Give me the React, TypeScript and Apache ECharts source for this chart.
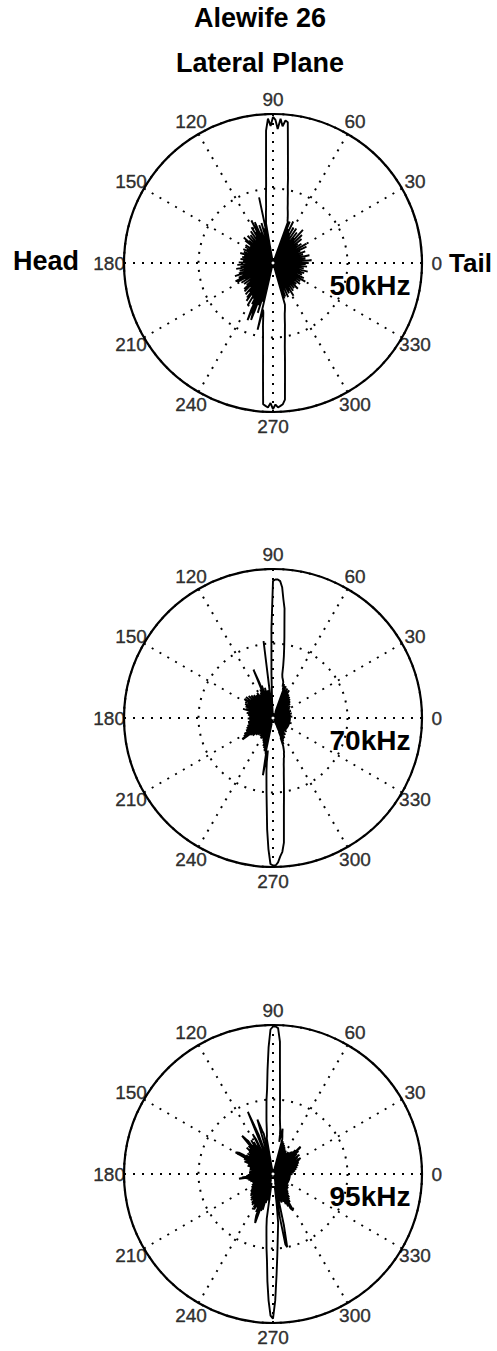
import React, { useEffect, useRef } from "react";
import * as echarts from "echarts";

// ---- data: normalized level per degree (index = angle in degrees, 0..359) ----
const level50 = [
  0.24, 0.01, 0.19, 0.02, 0.26, 0.01, 0.15, 0.02, 0.22, 0.01,
  0.18, 0.02, 0.25, 0.01, 0.14, 0.02, 0.21, 0.01, 0.17, 0.02,
  0.23, 0.01, 0.16, 0.02, 0.2, 0.01, 0.25, 0.02, 0.15, 0.01,
  0.26, 0.02, 0.18, 0.01, 0.23, 0.02, 0.14, 0.01, 0.21, 0.02,
  0.25, 0.01, 0.17, 0.02, 0.27, 0.01, 0.2, 0.02, 0.3, 0.01,
  0.22, 0.02, 0.26, 0.01, 0.19, 0.02, 0.28, 0.01, 0.21, 0.02,
  0.27, 0.01, 0.23, 0.02, 0.31, 0.01, 0.25, 0.02, 0.3, 0.03,
  0.29, 0.3, 0.32, 0.34, 0.36, 0.38, 0.41, 0.44, 0.48, 0.52,
  0.58, 0.64, 0.72, 0.82, 0.95, 0.96, 0.92, 0.97, 0.9, 0.96,
  0.98, 0.92, 0.97, 0.89, 0.67, 0.53, 0.45, 0.38, 0.34, 0.3,
  0.27, 0.02, 0.45, 0.02, 0.24, 0.01, 0.28, 0.02, 0.19, 0.01,
  0.27, 0.02, 0.22, 0.01, 0.3, 0.02, 0.2, 0.32, 0.01, 0.24,
  0.02, 0.28, 0.01, 0.21, 0.02, 0.26, 0.01, 0.18, 0.02, 0.24,
  0.01, 0.2, 0.02, 0.25, 0.01, 0.17, 0.02, 0.22, 0.01, 0.26,
  0.02, 0.24, 0.01, 0.19, 0.02, 0.15, 0.01, 0.22, 0.02, 0.18,
  0.01, 0.2, 0.02, 0.16, 0.01, 0.22, 0.02, 0.17, 0.01, 0.21,
  0.02, 0.18, 0.01, 0.23, 0.02, 0.2, 0.01, 0.16, 0.02, 0.21,
  0.01, 0.17, 0.02, 0.22, 0.01, 0.15, 0.02, 0.2, 0.01, 0.23,
  0.02, 0.19, 0.01, 0.24, 0.02, 0.17, 0.01, 0.22, 0.02, 0.25,
  0.01, 0.2, 0.02, 0.23, 0.01, 0.18, 0.02, 0.24, 0.01, 0.27,
  0.02, 0.22, 0.01, 0.25, 0.02, 0.19, 0.28, 0.01, 0.27, 0.02,
  0.21, 0.01, 0.25, 0.02, 0.18, 0.01, 0.24, 0.02, 0.2, 0.01,
  0.23, 0.02, 0.26, 0.01, 0.2, 0.27, 0.02, 0.22, 0.01, 0.28,
  0.02, 0.25, 0.01, 0.29, 0.02, 0.31, 0.01, 0.26, 0.02, 0.33,
  0.01, 0.27, 0.02, 0.31, 0.01, 0.34, 0.42, 0.02, 0.36, 0.41,
  0.02, 0.3, 0.01, 0.35, 0.02, 0.27, 0.03, 0.46, 0.32, 0.34,
  0.38, 0.43, 0.48, 0.55, 0.64, 0.77, 0.95, 0.96, 0.97, 0.94,
  0.98, 0.95, 0.97, 0.96, 0.95, 0.92, 0.77, 0.66, 0.57, 0.51,
  0.46, 0.42, 0.38, 0.35, 0.33, 0.31, 0.29, 0.02, 0.25, 0.01,
  0.24, 0.02, 0.2, 0.01, 0.25, 0.02, 0.18, 0.01, 0.23, 0.02,
  0.21, 0.01, 0.26, 0.02, 0.19, 0.01, 0.23, 0.02, 0.17, 0.01,
  0.22, 0.02, 0.18, 0.01, 0.24, 0.02, 0.16, 0.01, 0.21, 0.02,
  0.19, 0.01, 0.23, 0.02, 0.17, 0.01, 0.22, 0.02, 0.15, 0.01,
  0.25, 0.02, 0.2, 0.01, 0.23, 0.02, 0.17, 0.01, 0.21, 0.02,
  0.16, 0.01, 0.22, 0.02, 0.19, 0.01, 0.24, 0.02, 0.17, 0.01,
  0.21, 0.02, 0.18, 0.01, 0.23, 0.02, 0.16, 0.01, 0.22, 0.02,
];

const level70 = [
  0.12, 0.01, 0.09, 0.02, 0.13, 0.01, 0.1, 0.02, 0.12, 0.01,
  0.08, 0.02, 0.11, 0.01, 0.13, 0.02, 0.1, 0.01, 0.12, 0.02,
  0.09, 0.01, 0.13, 0.02, 0.11, 0.01, 0.12, 0.02, 0.1, 0.01,
  0.13, 0.02, 0.11, 0.01, 0.14, 0.02, 0.12, 0.01, 0.13, 0.02,
  0.15, 0.01, 0.12, 0.02, 0.16, 0.01, 0.14, 0.02, 0.17, 0.01,
  0.15, 0.02, 0.18, 0.01, 0.16, 0.02, 0.19, 0.01, 0.18, 0.02,
  0.21, 0.01, 0.2, 0.02, 0.22, 0.03, 0.21, 0.04, 0.23, 0.05,
  0.23, 0.2, 0.24, 0.22, 0.25, 0.26, 0.27, 0.28, 0.3, 0.36,
  0.42, 0.48, 0.55, 0.63, 0.74, 0.8, 0.88, 0.92, 0.93, 0.93,
  0.92, 0.6, 0.3, 0.12, 0.02, 0.1, 0.01, 0.52, 0.02, 0.16,
  0.01, 0.19, 0.02, 0.15, 0.01, 0.21, 0.02, 0.17, 0.01, 0.23,
  0.02, 0.25, 0.35, 0.02, 0.21, 0.01, 0.19, 0.02, 0.17, 0.01,
  0.18, 0.02, 0.2, 0.01, 0.15, 0.02, 0.19, 0.01, 0.17, 0.02,
  0.2, 0.01, 0.16, 0.02, 0.21, 0.01, 0.18, 0.02, 0.22, 0.01,
  0.19, 0.02, 0.23, 0.01, 0.2, 0.02, 0.23, 0.22, 0.01, 0.2,
  0.02, 0.19, 0.01, 0.21, 0.02, 0.17, 0.01, 0.2, 0.02, 0.16,
  0.01, 0.19, 0.02, 0.21, 0.01, 0.17, 0.02, 0.16, 0.01, 0.18,
  0.02, 0.15, 0.01, 0.17, 0.02, 0.14, 0.01, 0.16, 0.02, 0.15,
  0.01, 0.17, 0.02, 0.14, 0.01, 0.16, 0.02, 0.13, 0.01, 0.17,
  0.02, 0.15, 0.01, 0.17, 0.02, 0.14, 0.01, 0.18, 0.02, 0.16,
  0.01, 0.19, 0.02, 0.18, 0.01, 0.2, 0.02, 0.19, 0.01, 0.22,
  0.02, 0.2, 0.23, 0.01, 0.24, 0.25, 0.02, 0.19, 0.01, 0.17,
  0.02, 0.18, 0.01, 0.15, 0.02, 0.16, 0.01, 0.13, 0.02, 0.15,
  0.01, 0.14, 0.02, 0.12, 0.01, 0.15, 0.02, 0.13, 0.01, 0.16,
  0.02, 0.14, 0.01, 0.15, 0.02, 0.16, 0.01, 0.17, 0.02, 0.18,
  0.01, 0.2, 0.02, 0.21, 0.03, 0.22, 0.23, 0.04, 0.24, 0.25,
  0.39, 0.22, 0.3, 0.36, 0.42, 0.5, 0.6, 0.75, 0.88, 0.98,
  0.99, 0.99, 0.97, 0.93, 0.9, 0.84, 0.7, 0.6, 0.53, 0.47,
  0.42, 0.38, 0.35, 0.32, 0.3, 0.28, 0.27, 0.25, 0.24, 0.22,
  0.2, 0.14, 0.19, 0.1, 0.17, 0.06, 0.16, 0.03, 0.15, 0.02,
  0.14, 0.01, 0.13, 0.02, 0.12, 0.01, 0.14, 0.02, 0.11, 0.01,
  0.12, 0.02, 0.1, 0.01, 0.13, 0.02, 0.11, 0.01, 0.12, 0.02,
  0.1, 0.01, 0.12, 0.02, 0.09, 0.01, 0.11, 0.02, 0.12, 0.01,
  0.1, 0.02, 0.12, 0.01, 0.09, 0.02, 0.11, 0.01, 0.12, 0.02,
  0.1, 0.01, 0.11, 0.02, 0.13, 0.01, 0.1, 0.02, 0.12, 0.01,
  0.09, 0.02, 0.11, 0.01, 0.12, 0.02, 0.1, 0.01, 0.11, 0.02,
];

const level95 = [
  0.13, 0.01, 0.11, 0.02, 0.14, 0.01, 0.12, 0.02, 0.15, 0.01,
  0.13, 0.02, 0.16, 0.01, 0.14, 0.02, 0.17, 0.01, 0.15, 0.02,
  0.18, 0.01, 0.16, 0.02, 0.19, 0.01, 0.17, 0.02, 0.2, 0.01,
  0.21, 0.02, 0.18, 0.01, 0.2, 0.02, 0.22, 0.01, 0.19, 0.02,
  0.21, 0.01, 0.23, 0.02, 0.25, 0.26, 0.01, 0.22, 0.02, 0.2,
  0.01, 0.19, 0.02, 0.16, 0.01, 0.18, 0.02, 0.15, 0.01, 0.17,
  0.02, 0.18, 0.01, 0.16, 0.02, 0.19, 0.01, 0.2, 0.02, 0.21,
  0.01, 0.22, 0.02, 0.23, 0.03, 0.24, 0.26, 0.28, 0.31, 0.22,
  0.27, 0.31, 0.34, 0.38, 0.45, 0.54, 0.67, 0.89, 0.98, 0.99,
  0.99, 0.97, 0.85, 0.7, 0.57, 0.5, 0.42, 0.36, 0.3, 0.26,
  0.24, 0.02, 0.14, 0.28, 0.3, 0.34, 0.38, 0.02, 0.16, 0.01,
  0.28, 0.34, 0.45, 0.02, 0.18, 0.01, 0.26, 0.3, 0.02, 0.22,
  0.01, 0.25, 0.02, 0.27, 0.01, 0.24, 0.02, 0.28, 0.3, 0.33,
  0.02, 0.25, 0.01, 0.23, 0.02, 0.25, 0.01, 0.22, 0.02, 0.21,
  0.01, 0.22, 0.02, 0.2, 0.01, 0.22, 0.02, 0.24, 0.27, 0.28,
  0.29, 0.02, 0.22, 0.01, 0.2, 0.02, 0.21, 0.01, 0.18, 0.02,
  0.17, 0.01, 0.18, 0.02, 0.16, 0.01, 0.15, 0.02, 0.16, 0.01,
  0.15, 0.02, 0.14, 0.01, 0.16, 0.02, 0.15, 0.01, 0.16, 0.02,
  0.15, 0.01, 0.17, 0.02, 0.18, 0.01, 0.2, 0.21, 0.23, 0.02,
  0.18, 0.01, 0.16, 0.02, 0.17, 0.01, 0.15, 0.02, 0.16, 0.01,
  0.15, 0.02, 0.14, 0.01, 0.15, 0.02, 0.14, 0.01, 0.16, 0.02,
  0.15, 0.01, 0.17, 0.02, 0.16, 0.01, 0.18, 0.02, 0.19, 0.01,
  0.18, 0.02, 0.2, 0.01, 0.21, 0.02, 0.2, 0.01, 0.22, 0.02,
  0.23, 0.01, 0.22, 0.02, 0.24, 0.01, 0.25, 0.02, 0.24, 0.01,
  0.26, 0.02, 0.27, 0.01, 0.25, 0.02, 0.28, 0.03, 0.3, 0.33,
  0.35, 0.04, 0.26, 0.05, 0.25, 0.06, 0.2, 0.06, 0.18, 0.07,
  0.14, 0.06, 0.3, 0.36, 0.42, 0.5, 0.58, 0.72, 0.85, 0.95,
  0.97, 0.85, 0.68, 0.55, 0.45, 0.38, 0.33, 0.2, 0.08, 0.3,
  0.48, 0.5, 0.35, 0.06, 0.15, 0.05, 0.18, 0.2, 0.04, 0.17,
  0.03, 0.2, 0.02, 0.22, 0.01, 0.24, 0.02, 0.26, 0.27, 0.28,
  0.02, 0.22, 0.01, 0.2, 0.02, 0.19, 0.01, 0.17, 0.02, 0.16,
  0.01, 0.15, 0.02, 0.14, 0.01, 0.13, 0.02, 0.14, 0.01, 0.13,
  0.02, 0.12, 0.01, 0.13, 0.02, 0.12, 0.01, 0.11, 0.02, 0.12,
  0.01, 0.11, 0.02, 0.12, 0.01, 0.11, 0.02, 0.1, 0.01, 0.12,
  0.02, 0.11, 0.01, 0.12, 0.02, 0.11, 0.01, 0.12, 0.02, 0.11,
  0.01, 0.12, 0.02, 0.11, 0.01, 0.12, 0.02, 0.11, 0.01, 0.12,
];

const angleTicks = [0, 30, 60, 90, 120, 150, 180, 210, 240, 270, 300, 330];
const freqLabels = ["50kHz", "70kHz", "95kHz"];
const levels = [level50, level70, level95];
const titleLines = ["Alewife 26", "Lateral Plane"];
const sideLabels = ["Head", "Tail"];

// ---- layout ----
const W = 497;
const H = 1351;
const CX = 273;
const CENTERS_Y = [263, 718, 1174];
const RADIUS = 149;
const FONT = "'Liberation Sans', Arial, Helvetica, sans-serif";
const DOTS = [2, 7];

export default function App() {
  const ref = useRef<HTMLDivElement>(null);

  useEffect(() => {
    if (!ref.current) return;
    const chart = echarts.init(ref.current, undefined, { renderer: "svg" });

    const polar = CENTERS_Y.map((cy) => ({ center: [CX, cy], radius: RADIUS }));
    const angleAxis = CENTERS_Y.map((_, i) => ({
      polarIndex: i,
      type: "value",
      min: 0,
      max: 360,
      interval: 30,
      startAngle: 0,
      clockwise: false,
      axisLine: { show: true, lineStyle: { color: "#000", width: 2.2 } },
      axisTick: { show: false },
      axisLabel: { show: false },
      splitLine: { show: true, lineStyle: { color: "#000", width: 2, type: DOTS } },
      z: 1,
    }));
    const radiusAxis = CENTERS_Y.map((_, i) => ({
      polarIndex: i,
      type: "value",
      min: 0,
      max: 1,
      interval: 0.5,
      axisLine: { show: false },
      axisTick: { show: false },
      axisLabel: { show: false },
      splitLine: { show: true, lineStyle: { color: "#000", width: 2, type: DOTS } },
      z: 0,
    }));

    const series: any[] = [];
    levels.forEach((lv, i) => {
      const pts = lv.map((r, deg) => [r, deg]);
      pts.push([lv[0], 360]);
      series.push({
        type: "line",
        coordinateSystem: "polar",
        polarIndex: i,
        showSymbol: false,
        symbol: "none",
        silent: true,
        lineStyle: { color: "#000", width: 1.9 },
        data: pts,
        z: 3,
      });
      series.push({
        type: "scatter",
        coordinateSystem: "polar",
        polarIndex: i,
        clip: false,
        silent: true,
        symbolSize: 1,
        itemStyle: { color: "rgba(0,0,0,0)" },
        label: {
          show: true,
          position: "inside",
          formatter: (p: any) => String(p.value[1]),
          color: "#000",
          fontSize: 19,
          fontFamily: FONT,
          textBorderColor: "#000",
          textBorderWidth: 0.4,
        },
        data: angleTicks.map((a) => [1.1, a]),
        z: 4,
      });
    });

    const graphic: any[] = [
      {
        type: "text", x: 260, y: 18,
        style: { text: titleLines[0], fill: "#000", font: `bold 27px ${FONT}`, align: "center", verticalAlign: "middle" },
      },
      {
        type: "text", x: 260, y: 63,
        style: { text: titleLines[1], fill: "#000", font: `bold 27px ${FONT}`, align: "center", verticalAlign: "middle" },
      },
      {
        type: "text", x: 13, y: 261,
        style: { text: sideLabels[0], fill: "#000", font: `bold 27px ${FONT}`, align: "left", verticalAlign: "middle" },
      },
      {
        type: "text", x: 449, y: 263,
        style: { text: sideLabels[1], fill: "#000", font: `bold 26px ${FONT}`, align: "left", verticalAlign: "middle" },
      },
      ...CENTERS_Y.map((cy, i) => ({
        type: "text", x: 370, y: cy + 22, z: 10,
        style: { text: freqLabels[i], fill: "#000", font: `bold 28px ${FONT}`, align: "center", verticalAlign: "middle" },
      })),
    ];

    chart.setOption({
      animation: false,
      backgroundColor: "#fff",
      polar,
      angleAxis,
      radiusAxis,
      series,
      graphic,
    });

    return () => chart.dispose();
  }, []);

  return (
    <div
      ref={ref}
      style={{ position: "fixed", left: 0, top: 0, width: W, height: H, background: "#fff" }}
    />
  );
}
